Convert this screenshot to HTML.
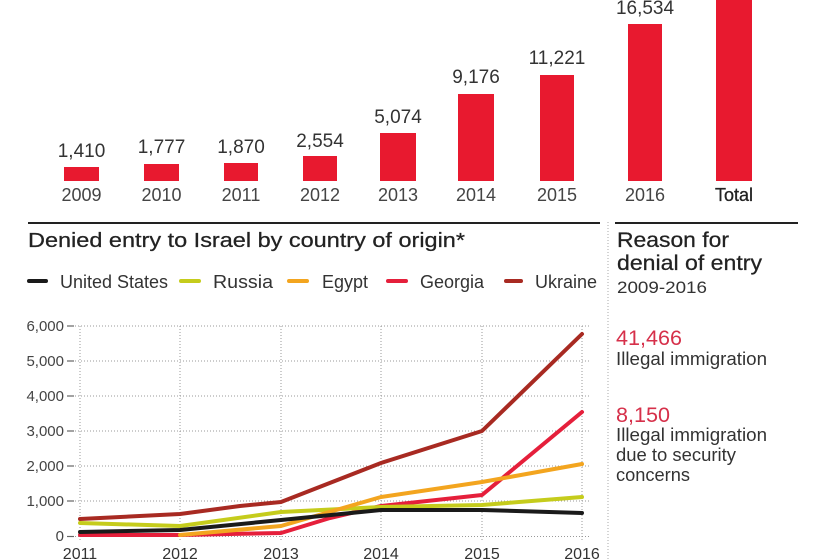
<!DOCTYPE html>
<html><head><meta charset="utf-8"><style>
html,body{margin:0;padding:0;background:#fff;}
svg{display:block;}
text{font-family:"Liberation Sans",sans-serif;}
</style></head><body>
<svg width="840" height="560" viewBox="0 0 840 560" xmlns="http://www.w3.org/2000/svg">
<rect width="840" height="560" fill="#fff"/>
<!-- Bars -->
<g fill="#e8192f">
<rect x="64" y="167" width="35" height="14"/>
<rect x="144" y="164" width="35" height="17"/>
<rect x="224" y="163" width="34" height="18"/>
<rect x="303" y="156" width="34" height="25"/>
<rect x="380" y="133" width="36" height="48"/>
<rect x="458" y="94" width="36" height="87"/>
<rect x="540" y="75" width="34" height="106"/>
<rect x="628" y="24" width="34" height="157"/>
<rect x="716" y="0" width="36" height="181"/>
</g>
<g fill="#333" font-size="19" text-anchor="middle">
<text x="81.5" y="157">1,410</text>
<text x="161.5" y="153">1,777</text>
<text x="241" y="153">1,870</text>
<text x="320" y="147">2,554</text>
<text x="398" y="123">5,074</text>
<text x="476" y="83">9,176</text>
<text x="557" y="64">11,221</text>
<text x="645" y="14">16,534</text>
</g>
<g fill="#444" font-size="18" text-anchor="middle">
<text x="81.5" y="201">2009</text>
<text x="161.5" y="201">2010</text>
<text x="241" y="201">2011</text>
<text x="320" y="201">2012</text>
<text x="398" y="201">2013</text>
<text x="476" y="201">2014</text>
<text x="557" y="201">2015</text>
<text x="645" y="201">2016</text>
<text x="734" y="201" fill="#222" stroke="#222" stroke-width="0.3">Total</text>
</g>
<!-- separators -->
<line x1="28" y1="223" x2="600" y2="223" stroke="#222" stroke-width="2"/>
<line x1="615" y1="223" x2="798" y2="223" stroke="#222" stroke-width="2"/>
<line x1="608" y1="222" x2="608" y2="560" stroke="#aaa" stroke-width="1" stroke-dasharray="1,2"/>
<!-- title -->
<text x="28" y="247" font-size="20" fill="#222" stroke="#222" stroke-width="0.25" textLength="437" lengthAdjust="spacingAndGlyphs">Denied entry to Israel by country of origin*</text>
<!-- legend -->
<g stroke-width="4" stroke-linecap="round">
<line x1="29" y1="281" x2="46" y2="281" stroke="#1a1a1a"/>
<line x1="181" y1="281" x2="199" y2="281" stroke="#c5cc1c"/>
<line x1="289" y1="281" x2="307" y2="281" stroke="#f3a51f"/>
<line x1="388" y1="281" x2="406" y2="281" stroke="#e51f3b"/>
<line x1="506" y1="281" x2="521" y2="281" stroke="#a82a22"/>
</g>
<g font-size="18" fill="#333">
<text x="60" y="288" textLength="108" lengthAdjust="spacingAndGlyphs">United States</text>
<text x="213" y="288" textLength="60" lengthAdjust="spacingAndGlyphs">Russia</text>
<text x="322" y="288" textLength="46" lengthAdjust="spacingAndGlyphs">Egypt</text>
<text x="420" y="288" textLength="64" lengthAdjust="spacingAndGlyphs">Georgia</text>
<text x="535" y="288" textLength="62" lengthAdjust="spacingAndGlyphs">Ukraine</text>
</g>
<!-- right panel -->
<text x="617" y="247" font-size="21" fill="#222" stroke="#222" stroke-width="0.25" textLength="112" lengthAdjust="spacingAndGlyphs">Reason for</text>
<text x="617" y="270" font-size="21" fill="#222" stroke="#222" stroke-width="0.25" textLength="145" lengthAdjust="spacingAndGlyphs">denial of entry</text>
<text x="617" y="293" font-size="17" fill="#333" textLength="90" lengthAdjust="spacingAndGlyphs">2009-2016</text>
<text x="616" y="345" font-size="21" fill="#d6304a" textLength="66" lengthAdjust="spacingAndGlyphs">41,466</text>
<text x="616" y="365" font-size="18" fill="#333" textLength="151" lengthAdjust="spacingAndGlyphs">Illegal immigration</text>
<text x="616" y="422" font-size="21" fill="#d6304a" textLength="54" lengthAdjust="spacingAndGlyphs">8,150</text>
<text x="616" y="441" font-size="18" fill="#333" textLength="151" lengthAdjust="spacingAndGlyphs">Illegal immigration</text>
<text x="616" y="461" font-size="18" fill="#333" textLength="120" lengthAdjust="spacingAndGlyphs">due to security</text>
<text x="616" y="481" font-size="18" fill="#333" textLength="74" lengthAdjust="spacingAndGlyphs">concerns</text>
<!-- line chart grid -->
<g stroke="#999" stroke-width="1" stroke-dasharray="1,2">
<line x1="75" y1="326" x2="590" y2="326"/>
<line x1="75" y1="361" x2="590" y2="361"/>
<line x1="75" y1="396" x2="590" y2="396"/>
<line x1="75" y1="431" x2="590" y2="431"/>
<line x1="75" y1="466" x2="590" y2="466"/>
<line x1="75" y1="501" x2="590" y2="501"/>
<line x1="75" y1="536.5" x2="590" y2="536.5"/>
<line x1="80" y1="326" x2="80" y2="541"/>
<line x1="180" y1="326" x2="180" y2="541"/>
<line x1="281" y1="326" x2="281" y2="541"/>
<line x1="381" y1="326" x2="381" y2="541"/>
<line x1="482" y1="326" x2="482" y2="541"/>
<line x1="582" y1="326" x2="582" y2="541"/>
</g>
<g stroke="#666" stroke-width="1.2">
<line x1="67" y1="326" x2="74" y2="326"/>
<line x1="67" y1="361" x2="74" y2="361"/>
<line x1="67" y1="396" x2="74" y2="396"/>
<line x1="67" y1="431" x2="74" y2="431"/>
<line x1="67" y1="466" x2="74" y2="466"/>
<line x1="67" y1="501" x2="74" y2="501"/>
<line x1="67" y1="536.5" x2="74" y2="536.5"/>
</g>
<g font-size="15" fill="#444" text-anchor="end">
<text x="64" y="331">6,000</text>
<text x="64" y="366">5,000</text>
<text x="64" y="401">4,000</text>
<text x="64" y="436">3,000</text>
<text x="64" y="471">2,000</text>
<text x="64" y="506">1,000</text>
<text x="64" y="541">0</text>
</g>
<g font-size="16" fill="#333" text-anchor="middle">
<text x="80" y="559">2011</text>
<text x="180" y="559">2012</text>
<text x="281" y="559">2013</text>
<text x="381" y="559">2014</text>
<text x="482" y="559">2015</text>
<text x="582" y="559">2016</text>
</g>
<!-- series -->
<g fill="none" stroke-width="4" stroke-linejoin="round" stroke-linecap="round">
<polyline stroke="#a82a22" points="80,519 180,514 240,506 281,502 381,463 482,431 582,334"/>
<polyline stroke="#e51f3b" points="80,535 180,535 281,533 330,518 381,506 482,495 582,412"/>
<polyline stroke="#c5cc1c" points="80,523 180,526 281,512 381,507 482,505 582,497"/>
<polyline stroke="#f3a51f" points="180,535 281,526 381,497 482,482 582,464"/>
<polyline stroke="#1a1a1a" points="80,532 180,530 281,520 381,510 482,510 582,513"/>
</g>
</svg>
</body></html>
